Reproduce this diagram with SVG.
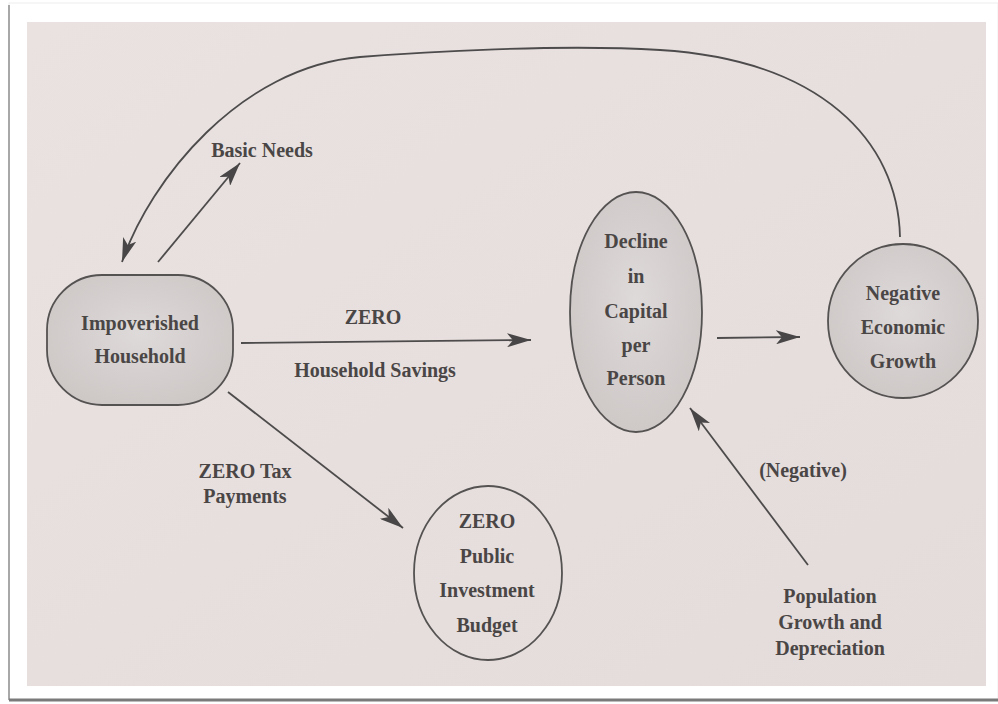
<svg xmlns="http://www.w3.org/2000/svg" width="998" height="704" viewBox="0 0 998 704">
  <defs>
    <radialGradient id="nodeFill" cx="50%" cy="45%" r="60%">
      <stop offset="0" stop-color="#dedad9"/>
      <stop offset="1" stop-color="#cdc7c6"/>
    </radialGradient>
    <linearGradient id="paper" x1="0" y1="0" x2="1" y2="1">
      <stop offset="0" stop-color="#e9e2e1"/>
      <stop offset="1" stop-color="#e4dcdb"/>
    </linearGradient>
    <marker id="arrow" markerUnits="userSpaceOnUse" markerWidth="26" markerHeight="14" refX="24" refY="7" orient="auto">
      <path d="M0,0 L24,7 L0,14 L6,7 z" fill="#484646"/>
    </marker>
  </defs>
  <style>
    .node { fill: url(#nodeFill); stroke: #555252; stroke-width: 1.8; }
    .edge { fill: none; stroke: #4d4b4b; stroke-width: 1.8; }
    .lbl { font-family: "Liberation Serif", "Times New Roman", serif; font-weight: bold; font-size: 20px; fill: #4a4646; text-anchor: middle; }
  </style>

  <!-- frame -->
  <rect x="0" y="0" width="998" height="704" fill="#ffffff"/>
  <rect x="9" y="3" width="989" height="697" fill="#ffffff" stroke="#eeeeee" stroke-width="1"/>
  <line x1="9" y1="5" x2="9" y2="700" stroke="#a8a8a8" stroke-width="2"/>
  <line x1="9" y1="700" x2="998" y2="700" stroke="#7a7a7a" stroke-width="3"/>
  <rect x="27" y="22" width="959" height="664" fill="url(#paper)"/>

  <!-- connectors -->
  <g id="connectors">
    <path class="edge" d="M900,237 C898,140 820,60 660,50 C560,43.75 420,52 360,57 C240,67 150,180 122,262" marker-end="url(#arrow)"/>
    <line class="edge" x1="158" y1="262" x2="240" y2="163" marker-end="url(#arrow)"/>
    <line class="edge" x1="241" y1="343" x2="531" y2="340" marker-end="url(#arrow)"/>
    <line class="edge" x1="228" y1="392" x2="403" y2="528" marker-end="url(#arrow)"/>
    <line class="edge" x1="717" y1="338" x2="800" y2="337" marker-end="url(#arrow)"/>
    <line class="edge" x1="808" y1="565" x2="690" y2="408" marker-end="url(#arrow)"/>
  </g>

  <!-- edge labels -->
  <g id="labels">
    <text class="lbl" x="262" y="157">Basic Needs</text>
    <text class="lbl" x="373" y="324">ZERO</text>
    <text class="lbl" x="375" y="377">Household Savings</text>
    <text class="lbl" x="245" y="478">ZERO Tax</text>
    <text class="lbl" x="245" y="503">Payments</text>
    <text class="lbl" x="803" y="477">(Negative)</text>
  </g>

  <g id="household">
    <rect class="node" x="47" y="275" width="186" height="130" rx="55" ry="55"/>
    <text class="lbl" x="140" y="330">Impoverished</text>
    <text class="lbl" x="140" y="363">Household</text>
  </g>

  <g id="decline">
    <ellipse class="node" cx="636" cy="312" rx="66" ry="120"/>
    <text class="lbl" x="636" y="248">Decline</text>
    <text class="lbl" x="636" y="283">in</text>
    <text class="lbl" x="636" y="318">Capital</text>
    <text class="lbl" x="636" y="352">per</text>
    <text class="lbl" x="636" y="385">Person</text>
  </g>

  <g id="negative-growth">
    <ellipse class="node" cx="903" cy="321" rx="75" ry="77"/>
    <text class="lbl" x="903" y="300">Negative</text>
    <text class="lbl" x="903" y="334">Economic</text>
    <text class="lbl" x="903" y="368">Growth</text>
  </g>

  <g id="public-budget">
    <ellipse class="node" cx="488" cy="573" rx="74" ry="87" style="fill:none"/>
    <text class="lbl" x="487" y="528">ZERO</text>
    <text class="lbl" x="487" y="563">Public</text>
    <text class="lbl" x="487" y="597">Investment</text>
    <text class="lbl" x="487" y="632">Budget</text>
  </g>

  <g id="population">
    <text class="lbl" x="830" y="603">Population</text>
    <text class="lbl" x="830" y="629">Growth and</text>
    <text class="lbl" x="830" y="655">Depreciation</text>
  </g>
</svg>
